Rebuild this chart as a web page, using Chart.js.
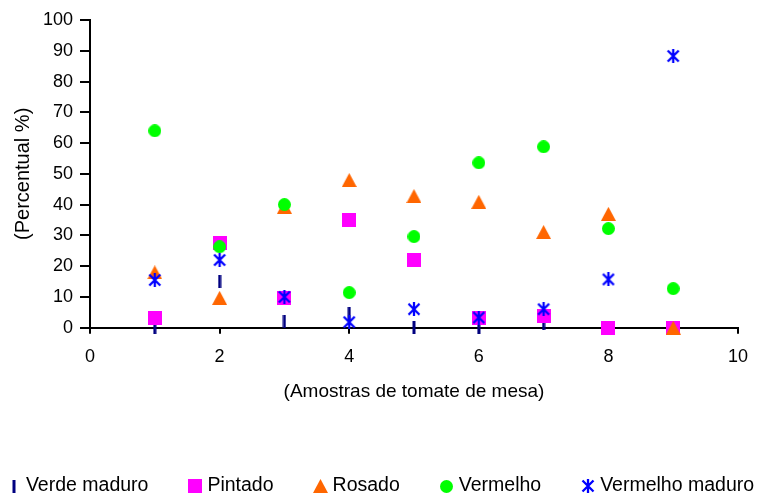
<!DOCTYPE html>
<html lang="pt">
<head>
<meta charset="utf-8">
<title>Estádios de maturação</title>
<script src="https://cdn.jsdelivr.net/npm/chart.js@4/dist/chart.umd.min.js"></script>
<style>
  html, body { margin: 0; padding: 0; background: #fff; }
  #wrap { width: 761px; height: 493px; }
</style>
</head>
<body>
<div id="wrap"><canvas id="grafico" width="761" height="493"></canvas></div>
<script>
// Amostras (eixo x) e percentual de cada estádio de maturação (eixo y)
const amostras = [1, 2, 3, 4, 5, 6, 7, 8, 9];
const verdeMaduro = [0, 15, 2, 4.7, 0, 0, 1.4, 0, 0];
const pintado = [3.3, 27.4, 9.8, 35, 22, 3.3, 3.9, 0, 0];
const rosado = [18, 9.7, 39.3, 48, 42.8, 40.9, 31.1, 37, 0];
const vermelho = [64, 26.3, 40, 11.4, 29.6, 53.6, 58.8, 32.2, 12.7];
const vermelhoMaduro = [15.5, 22, 10, 1.8, 6, 3.3, 6, 15.7, 88.3];

const nomesSeries = ['Verde maduro', 'Pintado', 'Rosado', 'Vermelho', 'Vermelho maduro'];
const tituloX = '(Amostras de tomate de mesa)';
const tituloY = '(Percentual %)';

const FONTE = '"Liberation Sans", Arial, Helvetica, sans-serif';

// Marcadores desenhados em pequenos canvases
function marcador(w, h, desenhar) {
  const c = document.createElement('canvas');
  c.width = w; c.height = h;
  desenhar(c.getContext('2d'), w, h);
  return c;
}
const mTraco = marcador(4, 13, (g, w, h) => {
  g.fillStyle = '#000080';
  g.fillRect(0.5, 0, 3, h);
});
const mQuadrado = marcador(14, 14, (g, w, h) => {
  g.fillStyle = '#ff00ff';
  g.fillRect(0, 0, w, h);
});
const mTriangulo = marcador(15, 14, (g, w, h) => {
  g.fillStyle = '#ff6600';
  g.beginPath();
  g.moveTo(w / 2, 0);
  g.lineTo(w, h);
  g.lineTo(0, h);
  g.closePath();
  g.fill();
});
const mCirculo = marcador(13, 13, (g, w, h) => {
  g.fillStyle = '#00ff00';
  g.beginPath();
  g.arc(w / 2, h / 2, w / 2, 0, Math.PI * 2);
  g.fill();
});
const mAsterisco = marcador(14, 14, (g, w, h) => {
  g.strokeStyle = '#0000ff';
  g.lineWidth = 2.3;
  g.beginPath();
  g.moveTo(w / 2, 0); g.lineTo(w / 2, h);
  g.moveTo(1.5, 1.5); g.lineTo(w - 1.5, h - 1.5);
  g.moveTo(w - 1.5, 1.5); g.lineTo(1.5, h - 1.5);
  g.stroke();
});

function pontos(valores) {
  return amostras.map((x, i) => ({ x: x, y: valores[i] }));
}

const series = [verdeMaduro, pintado, rosado, vermelho, vermelhoMaduro];
const marcadores = [mTraco, mQuadrado, mTriangulo, mCirculo, mAsterisco];

// a primeira série fica por baixo, a última por cima
const conjuntos = series.map((valores, i) => ({
  label: nomesSeries[i],
  data: pontos(valores),
  pointStyle: marcadores[i],
  pointRadius: 7,
  showLine: false,
  clip: false,
  order: series.length - 1 - i
}));

// Legenda numa linha ao fundo, com os mesmos marcadores
const legendaInferior = {
  id: 'legendaInferior',
  afterDraw(chart) {
    const ctx = chart.ctx;
    ctx.save();
    ctx.font = '19.5px ' + FONTE;
    ctx.fillStyle = '#000';
    ctx.textBaseline = 'middle';
    ctx.textAlign = 'left';
    const caixa = 14, folga = 5, espaco = 40;
    const itens = chart.data.datasets.map(ds => ({
      img: ds.pointStyle, texto: ds.label, w: ctx.measureText(ds.label).width
    }));
    const total = itens.reduce((s, it) => s + caixa + folga + it.w, 0) + espaco * (itens.length - 1);
    let x = (chart.width - total) / 2;
    const y = chart.height - 7;
    itens.forEach(it => {
      ctx.drawImage(it.img, Math.round(x + caixa / 2 - it.img.width / 2), Math.round(y - it.img.height / 2));
      ctx.fillText(it.texto, x + caixa + folga, y);
      x += caixa + folga + it.w + espaco;
    });
    ctx.restore();
  }
};

Chart.defaults.font.family = FONTE;
Chart.defaults.color = '#000';

new Chart(document.getElementById('grafico'), {
  type: 'scatter',
  data: { datasets: conjuntos },
  plugins: [legendaInferior],
  options: {
    responsive: false,
    animation: false,
    events: [],
    layout: { padding: { top: 20, right: 11, bottom: 73, left: 0 } },
    plugins: {
      legend: { display: false },
      tooltip: { enabled: false }
    },
    scales: {
      x: {
        type: 'linear',
        min: 0, max: 10,
        afterFit(s) { s.height = 92.3; },
        ticks: { stepSize: 2, padding: 13, font: { size: 18 }, color: '#000' },
        grid: { drawOnChartArea: false, color: '#000', lineWidth: 2, tickLength: 6 },
        border: { color: '#000', width: 2 },
        title: { display: true, text: tituloX, font: { size: 19 }, color: '#000', padding: { top: 0, bottom: 16.6 } }
      },
      y: {
        type: 'linear',
        min: 0, max: 100,
        afterFit(s) { s.width = 90; },
        ticks: { stepSize: 10, padding: 7, font: { size: 18 }, color: '#000' },
        grid: { drawOnChartArea: false, color: '#000', lineWidth: 2, tickLength: 10 },
        border: { color: '#000', width: 2 },
        title: { display: true, text: tituloY, font: { size: 20 }, color: '#000', padding: { top: 11, bottom: 0 } }
      }
    }
  }
});
</script>
</body>
</html>
